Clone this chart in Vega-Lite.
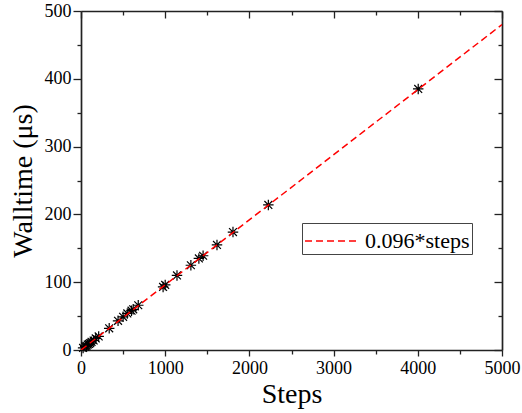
{
  "$schema": "https://vega.github.io/schema/vega-lite/v6.json",
  "width": 421,
  "height": 339,
  "autosize": {"type": "none"},
  "padding": {"left": 81, "top": 11, "right": 20, "bottom": 63},
  "background": "white",
  "config": {
    "font": "Liberation Serif",
    "view": {"stroke": null},
    "axis": {
      "labelFont": "Liberation Serif",
      "labelFontSize": 18,
      "labelColor": "black",
      "titleFont": "Liberation Serif",
      "titleFontSize": 28,
      "titleFontWeight": "normal",
      "titleColor": "black",
      "domainColor": "#222222",
      "domainWidth": 1.7,
      "tickColor": "#222222",
      "tickWidth": 1.3,
      "grid": false,
      "labelFlush": false,
      "labelOverlap": false,
      "format": "d"
    },
    "legend": {"labelFont": "Liberation Serif"}
  },
  "datasets": {
    "points": [
      {"steps": 25, "wall": 3},
      {"steps": 50, "wall": 5},
      {"steps": 65, "wall": 6},
      {"steps": 80, "wall": 8},
      {"steps": 95, "wall": 9},
      {"steps": 110, "wall": 10},
      {"steps": 125, "wall": 12},
      {"steps": 150, "wall": 14},
      {"steps": 175, "wall": 17},
      {"steps": 210, "wall": 20},
      {"steps": 335, "wall": 32},
      {"steps": 440, "wall": 43},
      {"steps": 500, "wall": 49},
      {"steps": 550, "wall": 54},
      {"steps": 600, "wall": 58},
      {"steps": 620, "wall": 60},
      {"steps": 680, "wall": 66},
      {"steps": 975, "wall": 93},
      {"steps": 1000, "wall": 96},
      {"steps": 1140, "wall": 110},
      {"steps": 1305, "wall": 125},
      {"steps": 1400, "wall": 135},
      {"steps": 1450, "wall": 139},
      {"steps": 1615, "wall": 155},
      {"steps": 1805, "wall": 174},
      {"steps": 2225, "wall": 214},
      {"steps": 4005, "wall": 385}
    ],
    "fit": [
      {"steps": 0, "wall": 0, "label": "0.096*steps"},
      {"steps": 5000, "wall": 480, "label": "0.096*steps"}
    ]
  },
  "layer": [
    {
      "data": {"name": "points"},
      "mark": {
        "type": "point",
        "shape": "M0,-1L0,1M-0.75,-0.75L0.75,0.75M-0.75,0.75L0.75,-0.75M-1,0L1,0",
        "filled": false,
        "stroke": "black",
        "strokeWidth": 1.2,
        "size": 110,
        "opacity": 1
      },
      "encoding": {
        "x": {
          "field": "steps", "type": "quantitative",
          "scale": {"domain": [0, 5000], "nice": false},
          "axis": {"orient": "top", "values": [0, 1000, 2000, 3000, 4000, 5000], "tickSize": -7, "labels": false, "title": null}
        },
        "y": {
          "field": "wall", "type": "quantitative",
          "scale": {"domain": [0, 500], "nice": false},
          "axis": {"orient": "right", "values": [0, 100, 200, 300, 400, 500], "tickSize": -8, "labels": false, "title": null}
        }
      }
    },
    {
      "data": {"name": "fit"},
      "mark": {"type": "line", "strokeWidth": 0, "opacity": 0},
      "encoding": {
        "x": {
          "field": "steps", "type": "quantitative",
          "scale": {"domain": [0, 5000], "nice": false},
          "axis": {"orient": "bottom", "values": [500, 1500, 2500, 3500, 4500], "tickSize": 4, "labels": false, "domain": false, "title": null}
        },
        "y": {
          "field": "wall", "type": "quantitative",
          "scale": {"domain": [0, 500], "nice": false},
          "axis": {"orient": "left", "values": [50, 150, 250, 350, 450], "tickSize": 4, "labels": false, "domain": false, "title": null}
        }
      }
    },
    {
      "data": {"name": "fit"},
      "mark": {"type": "line", "strokeWidth": 0, "opacity": 0},
      "encoding": {
        "x": {
          "field": "steps", "type": "quantitative",
          "scale": {"domain": [0, 5000], "nice": false},
          "axis": {"orient": "top", "values": [500, 1500, 2500, 3500, 4500], "tickSize": -4, "labels": false, "domain": false, "title": null}
        },
        "y": {
          "field": "wall", "type": "quantitative",
          "scale": {"domain": [0, 500], "nice": false},
          "axis": {"orient": "right", "values": [50, 150, 250, 350, 450], "tickSize": -4, "labels": false, "domain": false, "title": null}
        }
      }
    },
    {
      "data": {"name": "fit"},
      "mark": {"type": "line", "strokeDash": [7, 4], "strokeWidth": 1.5, "clip": true},
      "encoding": {
        "x": {
          "field": "steps", "type": "quantitative",
          "scale": {"domain": [0, 5000], "nice": false},
          "axis": {"orient": "bottom", "values": [0, 1000, 2000, 3000, 4000, 5000], "tickSize": 6, "labelPadding": 3, "title": "Steps", "titlePadding": 3, "format": "d"}
        },
        "y": {
          "field": "wall", "type": "quantitative",
          "scale": {"domain": [0, 500], "nice": false},
          "axis": {"orient": "left", "values": [0, 100, 200, 300, 400, 500], "tickSize": 8, "labelPadding": 2, "title": "Walltime (μs)", "titlePadding": 7, "format": "d"}
        },
        "color": {
          "field": "label", "type": "nominal",
          "scale": {"range": ["#ff0000"]},
          "legend": {
            "orient": "none",
            "legendX": 221,
            "legendY": 212,
            "title": null,
            "symbolType": "M-1.8,0H1.8",
            "symbolStrokeWidth": 1.5,
            "symbolDash": [7, 4],
            "symbolSize": 900,
            "symbolOffset": 12,
            "labelFont": "Liberation Serif",
            "labelFontSize": 22,
            "labelColor": "black",
            "labelOffset": 17,
            "strokeColor": "#444444",
            "padding": 2
          }
        }
      }
    }
  ],
  "resolve": {"axis": {"x": "independent", "y": "independent"}}
}
